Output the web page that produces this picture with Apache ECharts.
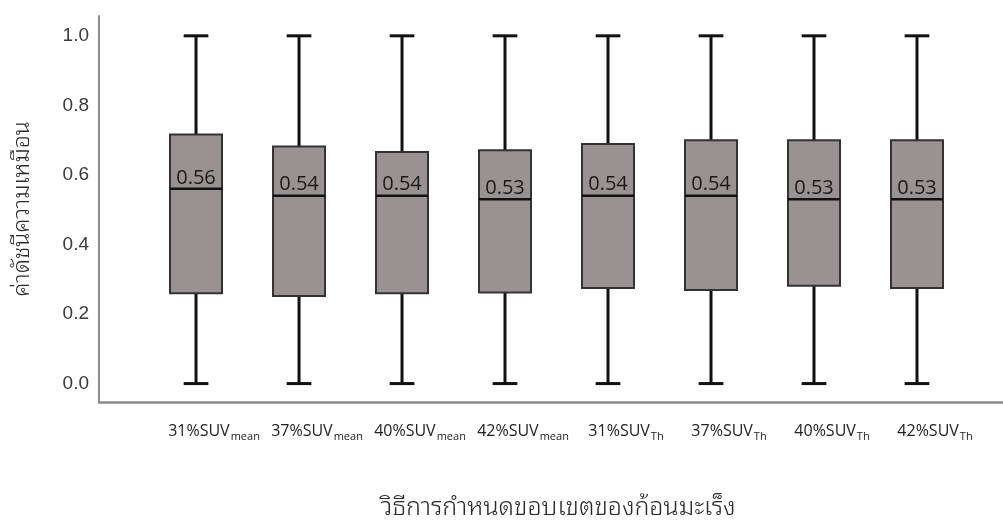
<!DOCTYPE html>
<html>
<head>
<meta charset="utf-8">
<script src="https://cdn.jsdelivr.net/npm/echarts@6/dist/echarts.min.js"></script>
<style>
  html, body { margin: 0; padding: 0; background: #ffffff; }
  #chart { width: 1003px; height: 525px; }
</style>
</head>
<body>
<div id="chart"></div>
<script>
// Segmentation methods (main text + subscript)
const methodPrefix = ['31%SUV', '37%SUV', '40%SUV', '42%SUV', '31%SUV', '37%SUV', '40%SUV', '42%SUV'];
const methodSubscript = ['mean', 'mean', 'mean', 'mean', 'Th', 'Th', 'Th', 'Th'];

// Box statistics of the similarity index for each method
const whiskerLow  = [0.00, 0.00, 0.00, 0.00, 0.00, 0.00, 0.00, 0.00];
const quartile1   = [0.260, 0.252, 0.260, 0.262, 0.275, 0.269, 0.281, 0.275];
const medians     = [0.56, 0.54, 0.54, 0.53, 0.54, 0.54, 0.53, 0.53];
const quartile3   = [0.716, 0.682, 0.666, 0.671, 0.689, 0.700, 0.700, 0.700];
const whiskerHigh = [1.00, 1.00, 1.00, 1.00, 1.00, 1.00, 1.00, 1.00];

// Y axis tick labels
const yTicks = [0, 0.2, 0.4, 0.6, 0.8, 1.0];

const yTitle = 'ค่าดัชนีความเหมือน';
const xTitle = 'วิธีการกำหนดขอบเขตของก้อนมะเร็ง';

const thaiFont = "'Noto Sans Thai Looped', 'Noto Sans Thai', 'Tlwg Typo', 'Garuda', 'Loma', 'Noto Sans', sans-serif";

const boxData = methodPrefix.map((_, i) => [i, whiskerLow[i], quartile1[i], medians[i], quartile3[i], whiskerHigh[i]]);

function renderBox(params, api) {
  const idx = api.value(0);
  const at = (v) => api.coord([idx, v]);
  const band = api.size([1, 0])[0];
  const boxW = band * 0.505;
  const capW = band * 0.24;
  const pLow = at(api.value(1));
  const pQ1 = at(api.value(2));
  const pMed = at(api.value(3));
  const pQ3 = at(api.value(4));
  const pHigh = at(api.value(5));
  const cx = pMed[0];
  const whisker = { stroke: '#111111', lineWidth: 3 };
  return {
    type: 'group',
    children: [
      { type: 'line', shape: { x1: cx, y1: pHigh[1], x2: cx, y2: pQ3[1] }, style: whisker },
      { type: 'line', shape: { x1: cx, y1: pQ1[1], x2: cx, y2: pLow[1] }, style: whisker },
      { type: 'line', shape: { x1: cx - capW / 2, y1: pHigh[1], x2: cx + capW / 2, y2: pHigh[1] }, style: whisker },
      { type: 'line', shape: { x1: cx - capW / 2, y1: pLow[1], x2: cx + capW / 2, y2: pLow[1] }, style: whisker },
      {
        type: 'rect',
        shape: { x: cx - boxW / 2, y: pQ3[1], width: boxW, height: pQ1[1] - pQ3[1] },
        style: { fill: '#989292', stroke: '#333333', lineWidth: 2 }
      },
      { type: 'line', shape: { x1: cx - boxW / 2, y1: pMed[1], x2: cx + boxW / 2, y2: pMed[1] }, style: { stroke: '#111111', lineWidth: 2.5 } },
      {
        type: 'text',
        x: cx,
        y: pMed[1] - 1,
        style: {
          text: api.value(3).toFixed(2),
          align: 'center',
          verticalAlign: 'bottom',
          fontFamily: "'Open Sans', sans-serif",
          fontSize: 20,
          fill: '#1a1a1a'
        }
      }
    ]
  };
}

const chart = echarts.init(document.getElementById('chart'), null, { renderer: 'canvas' });

chart.setOption({
  backgroundColor: '#ffffff',
  animation: false,
  grid: { left: 99, right: 0, top: 16, bottom: 122, containLabel: false },
  xAxis: {
    type: 'value',
    min: -0.942,
    max: 7.835,
    splitLine: { show: false },
    axisTick: { show: false },
    axisLine: { show: true, onZero: false, lineStyle: { color: '#8c8c8c', width: 2.5 } },
    axisLabel: {
      customValues: methodPrefix.map((_, i) => i),
      margin: 19,
      padding: [0, 0, 0, 36],
      formatter: (v) => {
        const i = Math.round(v);
        return '{m|' + methodPrefix[i] + '}{s|' + methodSubscript[i] + '}';
      },
      rich: {
        m: { fontFamily: "'Open Sans', sans-serif", fontSize: 16, color: '#222222' },
        s: { fontFamily: "'Open Sans', sans-serif", fontSize: 11, color: '#222222', padding: [10, 0, 0, 1] }
      }
    },
    name: xTitle,
    nameLocation: 'middle',
    nameGap: 93,
    nameTextStyle: { fontFamily: thaiFont, fontSize: 25, fontWeight: 300, color: '#2a2a2a', padding: [0, 0, 0, 14] }
  },
  yAxis: {
    type: 'value',
    min: -0.053,
    max: 1.057,
    splitLine: { show: false },
    axisTick: { show: false },
    axisLine: { show: true, onZero: false, lineStyle: { color: '#8c8c8c', width: 2 } },
    axisLabel: {
      customValues: yTicks,
      margin: 10,
      formatter: (v) => v.toFixed(1),
      fontFamily: "'Liberation Sans', Arial, sans-serif",
      fontSize: 19,
      color: '#3a3a3a'
    },
    name: yTitle,
    nameLocation: 'middle',
    nameRotate: 90,
    nameGap: 65,
    nameTextStyle: { fontFamily: thaiFont, fontSize: 23, fontWeight: 300, color: '#2a2a2a' }
  },
  series: [{
    type: 'custom',
    renderItem: renderBox,
    encode: { x: 0, y: [1, 2, 3, 4, 5] },
    data: boxData,
    clip: false
  }]
});
</script>
</body>
</html>
